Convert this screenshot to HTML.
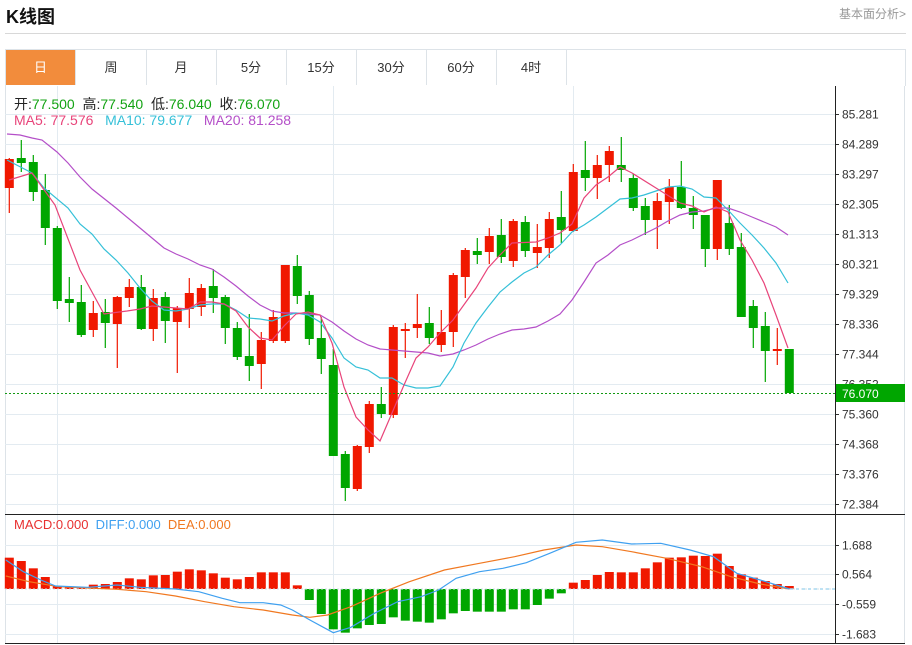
<!DOCTYPE html>
<html><head><meta charset="utf-8"><style>
body{margin:0;background:#fff;width:912px;height:645px;overflow:hidden;font-family:"Liberation Sans","Noto Sans CJK SC",sans-serif;position:relative}
.t{position:absolute;white-space:nowrap}
.tab{position:absolute;top:50px;height:35px;width:70px;border-right:1px solid #dde3e8;text-align:center;line-height:35px;font-size:13px;color:#333}
</style></head><body>
<div class="t" style="left:6px;top:3px;font-size:18px;font-weight:bold;color:#111">K线图</div>
<div class="t" style="right:6px;top:5px;font-size:12px;color:#999">基本面分析&gt;</div>
<div style="position:absolute;left:5px;top:33px;width:901px;height:1px;background:#d8d8d8"></div>
<div style="position:absolute;left:5px;top:49px;width:899px;height:36px;border:1px solid #dde3e8;border-bottom:none"></div>
<div class="tab" style="left:6px;background:#f28c3c;color:#fff;width:69px">日</div>
<div class="tab" style="left:76px">周</div>
<div class="tab" style="left:146px">月</div>
<div class="tab" style="left:216px">5分</div>
<div class="tab" style="left:286px">15分</div>
<div class="tab" style="left:356px">30分</div>
<div class="tab" style="left:426px">60分</div>
<div class="tab" style="left:496px">4时</div>
<svg id="s" width="912" height="645" style="position:absolute;left:0;top:0"></svg>
<div class="t" style="left:14px;top:94px;font-size:14px;color:#222">开:<span style="color:#13a313">77.500</span>&nbsp; 高:<span style="color:#13a313">77.540</span>&nbsp; 低:<span style="color:#13a313">76.040</span>&nbsp; 收:<span style="color:#13a313">76.070</span></div>
<div class="t" style="left:14px;top:112px;font-size:14px"><span style="color:#e8447a">MA5: 77.576</span>&nbsp;&nbsp; <span style="color:#35c0d8">MA10: 79.677</span>&nbsp;&nbsp; <span style="color:#b44fc8">MA20: 81.258</span></div>
<div class="t" style="left:14px;top:517px;font-size:13px"><span style="color:#e83030">MACD:0.000</span>&nbsp; <span style="color:#3fa0f0">DIFF:0.000</span>&nbsp; <span style="color:#f07820">DEA:0.000</span></div>
<script>
var S=document.getElementById('s'),h='';
function L(x1,y1,x2,y2,c,w,d){h+='<line x1="'+x1+'" y1="'+y1+'" x2="'+x2+'" y2="'+y2+'" stroke="'+c+'" stroke-width="'+(w||1)+'"'+(d?' stroke-dasharray="'+d+'"':'')+'/>';}
function T(x,y,t,c,fill){h+='<text x="'+x+'" y="'+y+'" font-size="12" fill="'+(c||'#333')+'" font-family="Liberation Sans,sans-serif">'+t+'</text>';}
L(5.5,86,5.5,643,'#dde3e8');L(904.5,86,904.5,643,'#dde3e8');
var labs=['85.281','84.289','83.297','82.305','81.313','80.321','79.329','78.336','77.344','76.352','75.360','74.368','73.376','72.384'];
for(var i=0;i<14;i++){var y=114+30*i+.5;L(5,y,835,y,'#e3ebf1');L(835,y,839,y,'#333');T(842,y+4,labs[i]);}
[57.5,333.5,573.5].forEach(function(x){L(x,86,x,643,'#e3ebf1');});
var ml=[[545,'1.688'],[574,'0.564'],[604,'-0.559'],[634,'-1.683']];
ml.forEach(function(m){L(5,m[0]+.5,835,m[0]+.5,'#e3ebf1');L(835,m[0]+.5,839,m[0]+.5,'#333');T(842,m[0]+4.5,m[1]);});
L(835.5,86,835.5,643,'#222');L(5,514.5,905,514.5,'#222');L(5,643.5,905,643.5,'#222');
var C=[[159,188,158,213,1],[158,163,140,172,0],[162,192,155,201,0],[190,228,174,245,0],[228,301,226,309,0],[299,303,277,322,0],[302,335,285,337,0],[313,330,301,337,1],[312,323,299,348,0],[297,324,296,368,1],[287,298,279,307,1],[287,329,275,330,0],[298,329,289,341,1],[297,321,292,343,0],[308,322,306,373,1],[293,309,278,328,1],[288,307,284,316,1],[286,298,269,313,0],[297,328,295,344,0],[328,357,322,360,0],[356,366,314,381,0],[340,364,332,389,1],[317,341,310,343,1],[265,341,265,343,1],[266,296,255,304,0],[295,339,291,345,0],[338,359,317,374,0],[365,456,349,456,0],[454,488,451,501,0],[446,489,445,491,1],[404,447,401,453,1],[404,414,387,418,0],[327,415,325,418,1],[329,331,323,358,1],[324,328,294,338,1],[323,338,307,344,0],[332,345,310,352,1],[275,332,273,347,1],[250,277,248,298,1],[251,255,238,264,0],[236,252,228,264,1],[235,257,219,263,0],[221,261,219,267,1],[222,251,216,257,0],[247,253,224,268,1],[219,248,212,258,1],[217,230,191,243,0],[172,231,164,232,1],[170,178,141,191,0],[165,178,155,199,1],[151,165,146,182,1],[165,170,137,182,0],[178,208,174,211,0],[206,220,198,235,0],[201,220,193,249,1],[187,202,179,224,1],[187,208,161,209,0],[208,215,196,229,0],[215,249,215,267,0],[180,249,180,260,1],[223,249,205,255,0],[247,317,233,317,0],[306,328,300,348,0],[326,351,312,382,0],[349,351,328,365,1],[349,393,349,393,0]];
C.forEach(function(c,i){var x=9.3+12*i,col=c[4]?'#f01800':'#00a600';L(x,c[2],x,c[3],col,1.2);h+='<rect x="'+(x-4.5)+'" y="'+c[0]+'" width="9" height="'+Math.max(1.5,c[1]-c[0])+'" fill="'+col+'"/>';});
function P(pts,c){h+='<polyline fill="none" stroke="'+c+'" stroke-width="1.2" points="'+pts.map(function(p){return p.join(',')}).join(' ')+'"/>';}
P([[7,134],[20,135],[32,138],[42,140],[57,152],[68,163],[80,177],[92,189],[116,208],[128,218],[140,228],[152,238],[164,248],[176,254],[188,259],[200,265],[212,269],[224,277],[236,286],[248,296],[260,305],[272,311],[284,313],[296,313],[308,314],[320,315],[332,322],[344,331],[356,339],[368,345],[380,349],[392,350],[404,351],[416,352],[428,353],[440,356],[453,354],[464,350],[476,345],[488,339],[500,334],[512,330],[524,329],[536,327],[548,321],[560,314],[572,300],[584,282],[596,263],[608,255],[620,245],[632,240],[644,234],[656,228],[668,221],[680,215],[692,212],[704,211],[716,208],[728,208],[740,212],[752,217],[764,222],[776,227],[788,235]],'#b44fc8');
P([[7,160],[32,173],[44,188],[68,208],[80,224],[92,234],[104,249],[116,260],[128,273],[140,288],[152,301],[164,310],[176,311],[188,309],[200,305],[212,304],[224,304],[236,310],[248,318],[260,319],[272,321],[284,316],[296,313],[308,315],[320,322],[332,338],[344,358],[356,367],[368,370],[380,378],[392,378],[404,385],[416,388],[428,388],[440,386],[453,367],[464,343],[476,323],[488,307],[500,292],[512,282],[524,273],[536,267],[548,255],[560,245],[572,232],[584,225],[596,217],[608,208],[620,199],[632,198],[644,195],[656,191],[668,187],[680,186],[692,189],[704,197],[716,198],[728,210],[740,223],[752,235],[764,248],[776,263],[788,283]],'#35c0d8');
P([[9,180],[32,173],[55,205],[80,270],[104,314],[127,311],[140,309],[152,306],[176,308],[188,309],[200,302],[212,302],[224,304],[236,311],[248,327],[260,338],[272,340],[284,326],[296,314],[308,312],[320,315],[332,343],[344,387],[356,417],[368,430],[380,441],[392,413],[404,385],[416,358],[428,347],[440,333],[453,320],[476,288],[488,268],[500,255],[512,243],[536,242],[548,238],[560,233],[572,224],[584,198],[596,185],[608,177],[620,167],[632,173],[656,188],[680,203],[692,206],[704,212],[716,207],[728,212],[740,240],[752,260],[764,283],[776,315],[788,348]],'#e8447a');
L(5,393.5,835,393.5,'#139913',1,'2,2');
h+='<rect x="836" y="384" width="69" height="18" fill="#00a600"/>';T(842,398,'76.070','#fff');
var R=[143,153,175,201,228,231,233,224,222,216,205,208,196,195,185,178,181,190,203,208,201,187,187,187,226];
var G=[270,312,358,368,355,345,342,322,332,335,338,328,310,303,305,305,305,298,298,285,266,250];
var R2=[218,210,195,186,187,187,175,157,143,142,137,138,131,168,193,203,213,222,228];
var z=589,all=[];R.forEach(function(v){all.push([v,1])});G.forEach(function(v){all.push([v,0])});R2.forEach(function(v){all.push([v,1])});
all.forEach(function(a,i){var x=9.3+12*i,y=a[0]/3+510,t=Math.min(y,z),hh=Math.abs(y-z);h+='<rect x="'+(x-4.5)+'" y="'+t+'" width="9" height="'+Math.max(1,hh)+'" fill="'+(a[1]?'#f01800':'#00a600')+'"/>';});
L(5,z,835,z,'#cfe0ea',1,'2,2');L(790,z,835,z,'#a8d8f0',1.5,'3,3');
function M(a){return a.map(function(p){return [(p[0]/1.71).toFixed(1),(p[1]/3+510).toFixed(1)]});}
P(M([[10,198],[50,215],[100,230],[200,238],[250,245],[300,258],[350,275],[400,290],[450,300],[500,315],[530,322],[560,315],[600,290],[650,250],[700,215],[760,180],[820,160],[880,140],[930,120],[985,105],[1030,110],[1080,125],[1140,145],[1200,170],[1250,200],[1300,222],[1350,237]]),'#f07820');
P(M([[10,150],[40,185],[70,210],[95,228],[150,232],[200,225],[240,232],[300,237],[340,245],[380,265],[410,278],[450,278],[480,285],[500,300],[530,330],[570,368],[600,352],[640,310],[680,275],[720,260],[750,240],[780,205],[820,185],[860,175],[900,158],[940,130],[985,97],[1030,90],[1080,102],[1130,100],[1180,120],[1220,140],[1260,190],[1300,210],[1350,237]]),'#3fa0f0');
S.innerHTML=h;
</script>
</body></html>
